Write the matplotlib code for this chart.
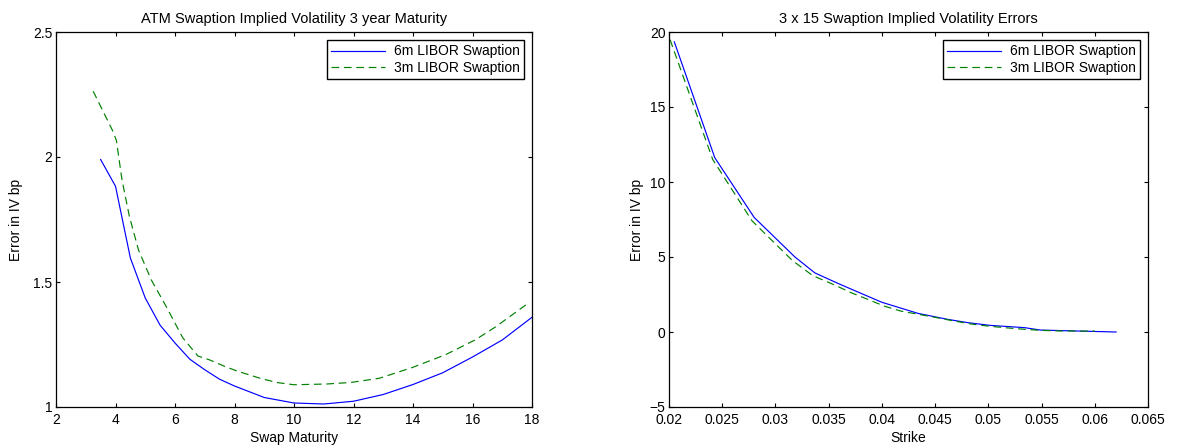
import matplotlib
matplotlib.use("Agg")
import matplotlib.pyplot as plt
from matplotlib.ticker import FixedLocator, FuncFormatter

plt.rcParams['font.family'] = ['Liberation Sans', 'DejaVu Sans']
plt.rcParams['font.size'] = 10

# ATM swaption errors vs. swap maturity (3y expiry)
maturity_6m = [3.5, 4, 4.5, 5, 5.5, 6, 6.5, 7, 7.5, 8, 8.5, 9, 10, 11, 12, 13, 14, 15, 16, 17, 18]
error_6m = [1.99, 1.883, 1.596, 1.436, 1.327, 1.256, 1.191, 1.149, 1.111, 1.084, 1.061, 1.038,
            1.016, 1.012, 1.023, 1.050, 1.090, 1.137, 1.200, 1.268, 1.359]
maturity_3m = [3.25, 3.9, 4.03, 4.22, 4.47, 4.77, 5.2, 5.7, 6.26, 6.77, 7.15, 7.68, 8.13, 8.86,
               9.42, 10, 11.1, 11.9, 12.87, 13.98, 15.09, 16.1, 16.77, 17.8]
error_3m = [2.263, 2.106, 2.066, 1.907, 1.761, 1.629, 1.509, 1.403, 1.277, 1.204, 1.189, 1.162,
            1.142, 1.115, 1.098, 1.089, 1.092, 1.098, 1.115, 1.158, 1.209, 1.269, 1.32, 1.409]

# 3 x 15 swaption errors vs. strike
strike_6m = [0.0205, 0.0243, 0.0280, 0.0318, 0.0337, 0.0360, 0.0400, 0.0434, 0.0462, 0.0481,
             0.0502, 0.0534, 0.0549, 0.0581, 0.0620]
strike_err_6m = [19.34, 11.62, 7.64, 5.02, 3.94, 3.2, 1.98, 1.24, 0.84, 0.62, 0.44, 0.29, 0.13,
                 0.07, 0.0]
strike_3m = [0.0201, 0.0241, 0.0278, 0.0316, 0.0335, 0.0357, 0.0370, 0.0387, 0.0402, 0.0418,
             0.0435, 0.0452, 0.0468, 0.0484, 0.0499, 0.0515, 0.0534, 0.0549, 0.0567, 0.0600]
strike_err_3m = [19.49, 11.51, 7.41, 4.76, 3.76, 3.09, 2.65, 2.17, 1.73, 1.39, 1.17, 0.95, 0.73,
                 0.53, 0.40, 0.29, 0.18, 0.11, 0.07, 0.06]

series_labels = ['6m LIBOR Swaption', '3m LIBOR Swaption']
titles = ['ATM Swaption Implied Volatility 3 year Maturity',
          '3 x 15 Swaption Implied Volatility Errors']
xlabels = ['Swap Maturity', 'Strike']
ylabel = 'Error in IV bp'

left_xticks = [2, 4, 6, 8, 10, 12, 14, 16, 18]
left_yticks = [1, 1.5, 2, 2.5]
right_xticks = [0.02, 0.025, 0.03, 0.035, 0.04, 0.045, 0.05, 0.055, 0.06, 0.065]
right_yticks = [-5, 0, 5, 10, 15, 20]

W, H = 1177, 447
fig = plt.figure(figsize=(W / 100, H / 100), dpi=100)
ax1 = fig.add_axes([56 / W, (H - 407) / H, 476 / W, 375 / H])
ax2 = fig.add_axes([669 / W, (H - 407) / H, 479 / W, 375 / H])

blue = '#0000ff'
green = '#008000'
dash = (0, (6.5, 4))

ax1.plot(maturity_6m, error_6m, color=blue, lw=0.85, label=series_labels[0])
ax1.plot(maturity_3m, error_3m, color=green, lw=0.85, ls=dash, label=series_labels[1])
ax2.plot(strike_6m, strike_err_6m, color=blue, lw=0.85, label=series_labels[0])
ax2.plot(strike_3m, strike_err_3m, color=green, lw=0.85, ls=dash, label=series_labels[1])

ax1.set_xlim(2, 18)
ax1.set_ylim(1, 2.5)
ax2.set_xlim(0.02, 0.065)
ax2.set_ylim(-5, 20)

fmt = FuncFormatter(lambda v, p: ('%g' % v).replace('-', '\u2212'))

for ax, xt, yt, title, xl, ylx in [
        (ax1, left_xticks, left_yticks, titles[0], xlabels[0], -0.069),
        (ax2, right_xticks, right_yticks, titles[1], xlabels[1], -0.052)]:
    ax.xaxis.set_major_locator(FixedLocator(xt))
    ax.yaxis.set_major_locator(FixedLocator(yt))
    ax.xaxis.set_major_formatter(fmt)
    ax.yaxis.set_major_formatter(fmt)
    ax.tick_params(direction='in', length=3, width=0.8, top=True, right=True,
                   labelsize=10, colors='black')
    ax.tick_params(axis='x', pad=4.5)
    ax.tick_params(axis='y', pad=2.5)
    for s in ax.spines.values():
        s.set_linewidth(0.9)
        s.set_color('black')
    ax.set_title(title, fontsize=10.5, pad=6.5)
    ax.set_xlabel(xl, fontsize=10)
    ax.set_ylabel(ylabel, fontsize=10)
    ax.xaxis.set_label_coords(0.5, -0.064)
    ax.yaxis.set_label_coords(ylx, 0.5)
    leg = ax.legend(loc='upper right', fontsize=10, frameon=True, fancybox=False,
                    handlelength=3.9, handletextpad=0.6, borderpad=0.3,
                    labelspacing=0.2, borderaxespad=0.6, framealpha=1)
    leg.get_frame().set_edgecolor('black')
    leg.get_frame().set_linewidth(1.0)

fig.savefig('out.png', dpi=100)
